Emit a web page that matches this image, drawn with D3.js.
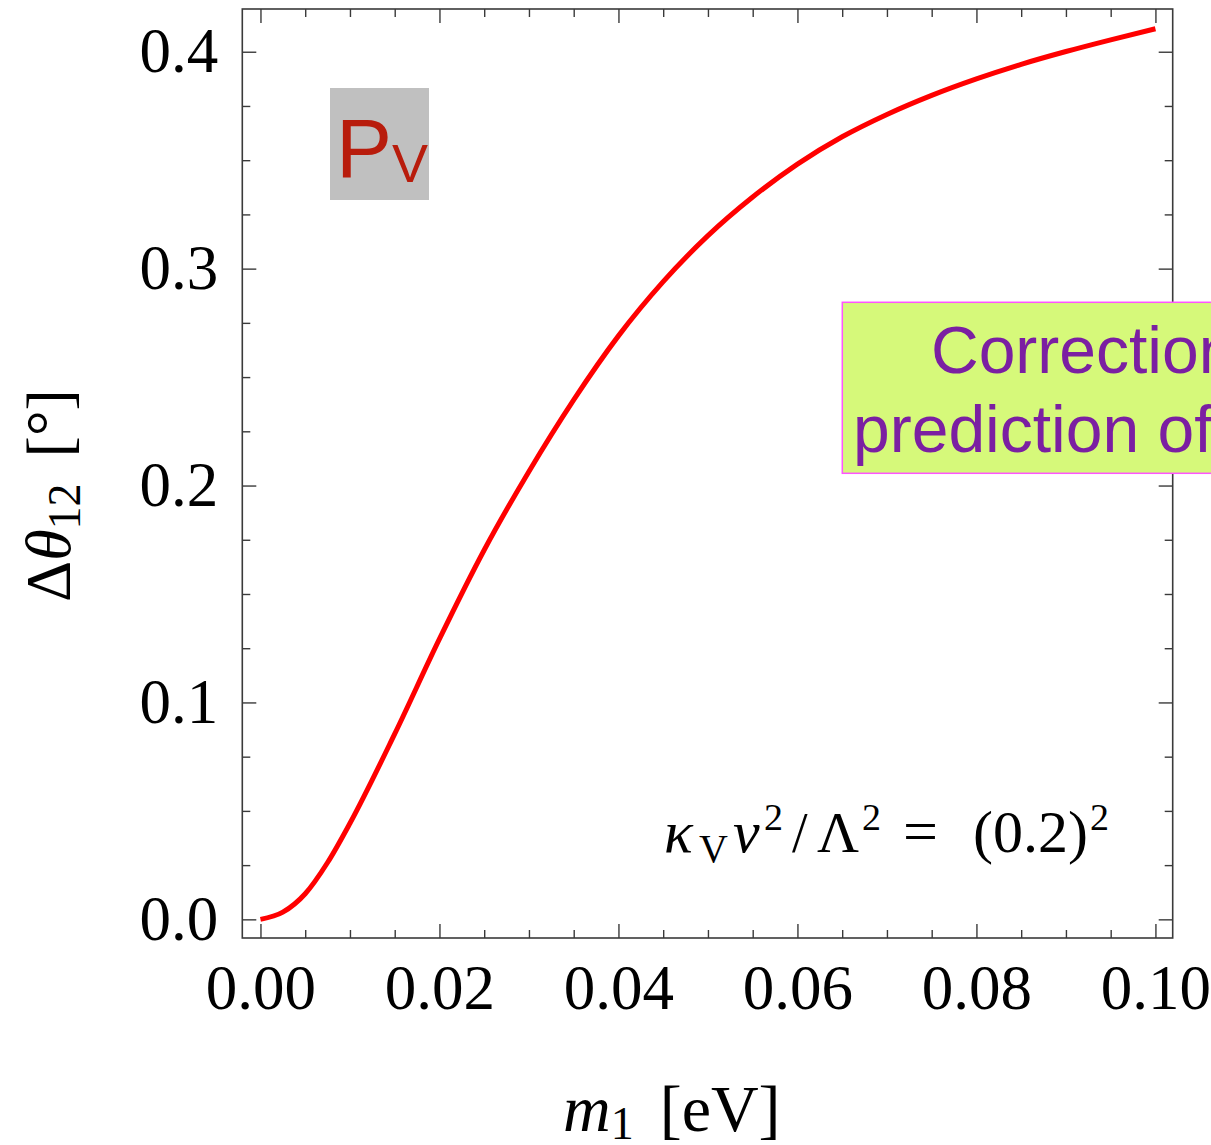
<!DOCTYPE html>
<html>
<head>
<meta charset="utf-8">
<script src="https://cdn.jsdelivr.net/npm/d3@7"></script>
<style>
  body { margin: 0; background: #fff; }
  svg { display: block; }
  .tick-label { font-family: "Liberation Serif", "Times New Roman", serif; font-size: 63px; fill: #000; }
</style>
</head>
<body>
<svg id="chart" width="1211" height="1145"></svg>
<script>
// m1 [eV] and delta theta12 [deg]
var m1 = [0, 0.0025, 0.005, 0.0075, 0.01, 0.015, 0.02, 0.025, 0.03, 0.035, 0.04,
          0.045, 0.05, 0.055, 0.06, 0.065, 0.07, 0.075, 0.08, 0.085, 0.09, 0.095, 0.1];
var dTheta12 = [0, 0.0033, 0.0118, 0.0262, 0.0443, 0.0855, 0.1293, 0.1703, 0.2065, 0.2395, 0.269,
                0.294, 0.3152, 0.333, 0.3482, 0.3608, 0.3711, 0.3799, 0.3875, 0.3942, 0.4001, 0.4055, 0.4106];

var xMajor = [0, 0.02, 0.04, 0.06, 0.08, 0.10];
var xMinor = [0.005, 0.01, 0.015, 0.025, 0.03, 0.035, 0.045, 0.05, 0.055,
              0.065, 0.07, 0.075, 0.085, 0.09, 0.095];
var yMajor = [0, 0.1, 0.2, 0.3, 0.4];
var yMinor = [0.025, 0.05, 0.075, 0.125, 0.15, 0.175, 0.225, 0.25, 0.275,
              0.325, 0.35, 0.375];

var svg = d3.select("#chart");

// plot frame (don't call these top/left, window.top is taken)
var plotL = 242.3, plotR = 1172.7, plotT = 9, plotB = 938;

var x = d3.scaleLinear().domain([-0.00203, 0.10193]).range([plotL, plotR]);
var y = d3.scaleLinear().domain([-0.0086, 0.4197]).range([plotB, plotT]);

var frameColor = "#3a3a3a";

// ticks on all four sides, pointing inward
function addAxis(axisFn, scale, values, size, transform, fmt) {
  var g = svg.append("g")
    .attr("transform", transform)
    .call(axisFn(scale).tickValues(values).tickSizeInner(-size).tickSizeOuter(0)
      .tickFormat(fmt || ""));
  g.select(".domain").remove();
  g.selectAll(".tick line").attr("stroke", frameColor).attr("stroke-width", 1.4);
  return g;
}

var fx = d3.format(".2f"), fy = d3.format(".1f");

var gxb = addAxis(d3.axisBottom, x, xMajor, 14, "translate(0," + plotB + ")", fx);
addAxis(d3.axisBottom, x, xMinor, 8, "translate(0," + plotB + ")");
addAxis(d3.axisTop, x, xMajor, 14, "translate(0," + plotT + ")");
addAxis(d3.axisTop, x, xMinor, 8, "translate(0," + plotT + ")");
var gyl = addAxis(d3.axisLeft, y, yMajor, 14, "translate(" + plotL + ",0)", fy);
addAxis(d3.axisLeft, y, yMinor, 8, "translate(" + plotL + ",0)");
addAxis(d3.axisRight, y, yMajor, 14, "translate(" + plotR + ",0)");
addAxis(d3.axisRight, y, yMinor, 8, "translate(" + plotR + ",0)");

gxb.selectAll(".tick text")
  .attr("class", "tick-label")
  .attr("y", 71).attr("dy", null)
  .attr("font-family", null).attr("font-size", null);
gyl.selectAll(".tick text")
  .attr("class", "tick-label")
  .attr("x", -24).attr("dy", 20)
  .attr("font-family", null).attr("font-size", null);

svg.append("rect")
  .attr("x", plotL).attr("y", plotT)
  .attr("width", plotR - plotL).attr("height", plotB - plotT)
  .attr("fill", "none")
  .attr("stroke", frameColor)
  .attr("stroke-width", 1.6);

// the curve
var line = d3.line()
  .x(function(d, i) { return x(m1[i]); })
  .y(function(d) { return y(d); })
  .curve(d3.curveMonotoneX);

svg.append("path")
  .datum(dTheta12)
  .attr("d", line)
  .attr("fill", "none")
  .attr("stroke", "#ff0000")
  .attr("stroke-width", 5);

// P_V label
svg.append("rect")
  .attr("x", 330).attr("y", 88).attr("width", 99).attr("height", 112)
  .attr("fill", "#c0c0c0");
var pv = svg.append("text")
  .attr("x", 336).attr("y", 177)
  .attr("font-family", "Liberation Sans, Arial, sans-serif")
  .attr("fill", "#b81c0c");
pv.append("tspan").attr("font-size", 84).text("P");
pv.append("tspan").attr("font-size", 54).attr("dy", 5).text("V");

// green note box, runs off the right edge
svg.append("rect")
  .attr("x", 842.3).attr("y", 302.3).attr("width", 500).attr("height", 171)
  .attr("fill", "#d6f97a")
  .attr("stroke", "#ff55ff")
  .attr("stroke-width", 1.5);
var note = svg.append("g")
  .attr("font-family", "Liberation Sans, Arial, sans-serif")
  .attr("font-size", 66)
  .attr("fill", "#7b1fa2");
note.append("text").attr("x", 931).attr("y", 373).text("Correction");
note.append("text").attr("x", 853).attr("y", 452).text("prediction of");

// parameter annotation, pieces placed one by one
var ann = svg.append("g")
  .attr("font-family", "Liberation Serif, Times New Roman, serif")
  .attr("fill", "#000");
var annBase = 852;
function annPiece(px, dy, size, italic, txt) {
  ann.append("text")
    .attr("x", px).attr("y", annBase + dy)
    .attr("font-size", size)
    .attr("font-style", italic ? "italic" : "normal")
    .text(txt);
}
annPiece(664, 0, 60, true, "κ");
annPiece(699, 10, 40, false, "V");
annPiece(733, 0, 60, true, "v");
annPiece(764, -22, 38, false, "2");
annPiece(792, 0, 56, false, "/");
annPiece(817, 0, 58, false, "Λ");
annPiece(862, -22, 38, false, "2");
annPiece(903, 0, 62, false, "=");
annPiece(973, 0, 60, false, "(0.2)");
annPiece(1090, -22, 38, false, "2");

// axis titles
var xt = svg.append("text")
  .attr("x", 563).attr("y", 1131)
  .attr("font-family", "Liberation Serif, Times New Roman, serif")
  .attr("font-size", 66)
  .attr("fill", "#000");
xt.append("tspan").attr("font-style", "italic").text("m");
xt.append("tspan").attr("font-size", 46).attr("dy", 8).text("1");
xt.append("tspan").attr("dy", -8).attr("dx", 26).text("[eV]");

var yt = svg.append("text")
  .attr("transform", "translate(70,602) rotate(-90)")
  .attr("font-family", "Liberation Serif, Times New Roman, serif")
  .attr("font-size", 64)
  .attr("fill", "#000");
yt.append("tspan").text("Δ");
yt.append("tspan").attr("font-style", "italic").text("θ");
yt.append("tspan").attr("font-size", 46).attr("dy", 10).text("12");
yt.append("tspan").attr("dy", -10).attr("dx", 26).text("[°]");
</script>
</body>
</html>
